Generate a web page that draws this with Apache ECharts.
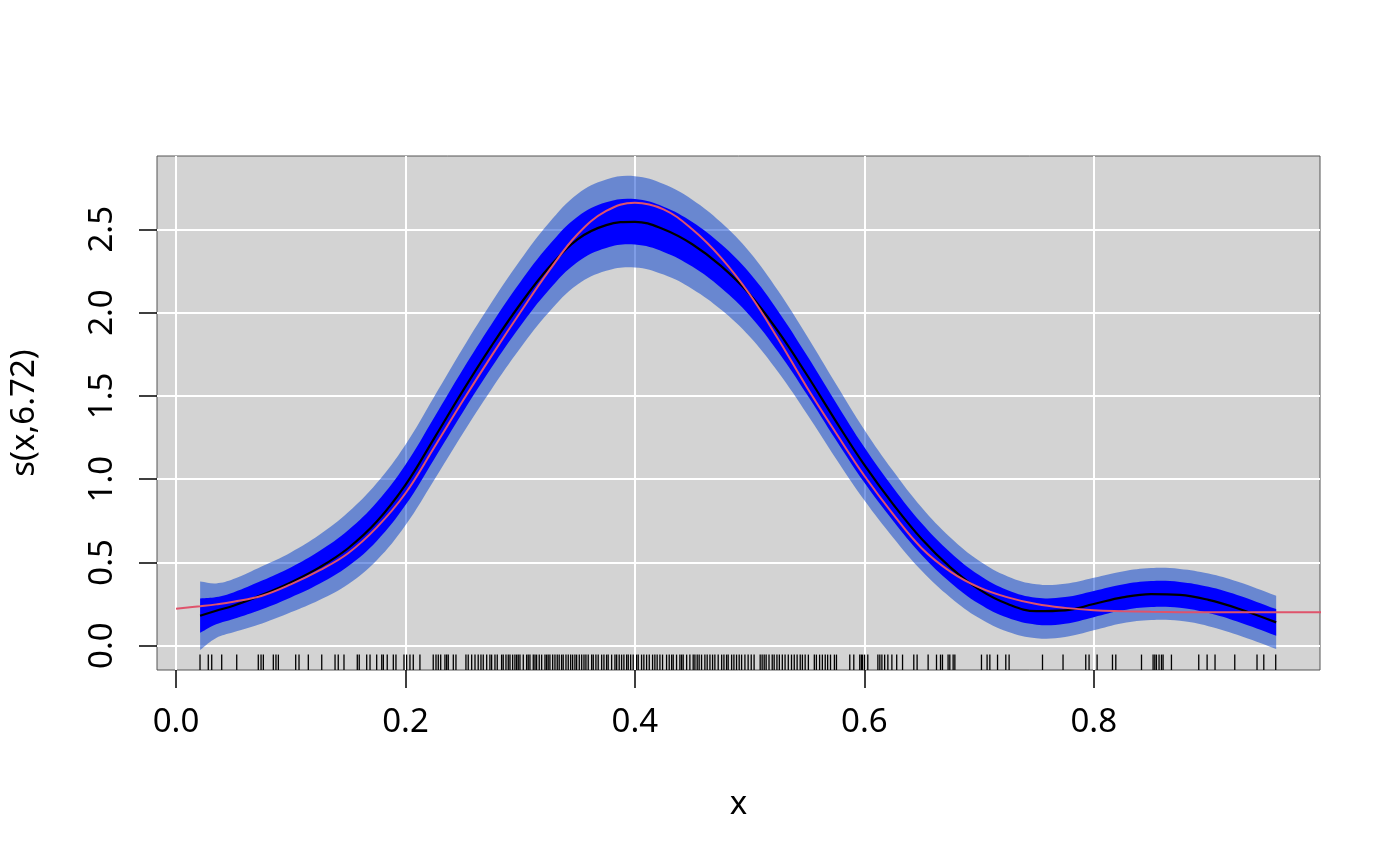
<!DOCTYPE html>
<html>
<head>
<meta charset="utf-8">
<script src="https://cdn.jsdelivr.net/npm/echarts@6/dist/echarts.min.js"></script>
<style>
html,body{margin:0;padding:0;background:#ffffff;}
#chart{width:1400px;height:866px;}
</style>
</head>
<body>
<div id="chart"></div>
<script>
// ---- data ----
const xGrid = [0.021,0.035,0.05,0.075,0.1,0.125,0.15,0.175,0.2,0.225,0.25,0.275,0.3,0.325,0.35,0.375,0.4,0.425,0.45,0.475,0.5,0.525,0.55,0.575,0.6,0.625,0.65,0.675,0.7,0.725,0.75,0.775,0.8,0.825,0.85,0.875,0.9,0.925,0.959];
const fitValues = [0.18,0.21,0.24,0.305,0.38,0.47,0.585,0.745,0.965,1.245,1.53,1.80,2.05,2.27,2.44,2.525,2.545,2.50,2.41,2.28,2.11,1.885,1.625,1.35,1.085,0.85,0.64,0.47,0.338,0.25,0.207,0.212,0.25,0.29,0.31,0.305,0.275,0.225,0.14];
const outerLower = [-0.026,0.046,0.08,0.133,0.20,0.274,0.369,0.513,0.723,0.995,1.274,1.54,1.786,2.002,2.168,2.251,2.271,2.228,2.142,2.018,1.856,1.641,1.391,1.126,0.873,0.65,0.45,0.29,0.166,0.084,0.045,0.052,0.092,0.134,0.154,0.149,0.117,0.065,-0.02];
const innerLower = [0.077,0.128,0.16,0.219,0.29,0.372,0.477,0.629,0.844,1.12,1.402,1.67,1.918,2.136,2.304,2.388,2.408,2.364,2.276,2.149,1.983,1.763,1.508,1.238,0.979,0.75,0.545,0.38,0.252,0.167,0.126,0.132,0.171,0.212,0.232,0.227,0.196,0.145,0.06];
const innerUpper = [0.283,0.292,0.32,0.391,0.47,0.568,0.693,0.861,1.086,1.37,1.658,1.93,2.182,2.404,2.576,2.662,2.682,2.636,2.544,2.411,2.237,2.007,1.742,1.462,1.191,0.95,0.735,0.56,0.424,0.333,0.288,0.292,0.329,0.368,0.388,0.383,0.354,0.305,0.22];
const outerUpper = [0.386,0.374,0.40,0.477,0.56,0.666,0.801,0.977,1.207,1.495,1.786,2.06,2.314,2.538,2.712,2.799,2.819,2.772,2.678,2.542,2.364,2.129,1.859,1.574,1.297,1.05,0.83,0.65,0.51,0.416,0.369,0.372,0.408,0.446,0.466,0.461,0.433,0.385,0.30];
const trueX = [0,0.021,0.035,0.05,0.075,0.1,0.125,0.15,0.175,0.2,0.225,0.25,0.275,0.3,0.325,0.35,0.375,0.4,0.425,0.45,0.475,0.5,0.525,0.55,0.575,0.6,0.625,0.65,0.675,0.7,0.725,0.75,0.775,0.8,0.825,0.85,0.875,0.9,0.925,0.959,1.0];
const trueValues = [0.222,0.237,0.248,0.264,0.30,0.368,0.452,0.555,0.71,0.915,1.19,1.47,1.74,2.0,2.25,2.47,2.61,2.66,2.62,2.50,2.33,2.11,1.84,1.55,1.28,1.02,0.79,0.585,0.445,0.35,0.29,0.25,0.227,0.213,0.207,0.203,0.201,0.2,0.2,0.2,0.2];
const rugX = [0.0209,0.0281,0.0311,0.0398,0.0529,0.0717,0.0741,0.0761,0.0848,0.0871,0.0892,0.1043,0.1072,0.1153,0.1270,0.1386,0.1414,0.1464,0.1580,0.1597,0.1662,0.1691,0.1749,0.1793,0.1807,0.1841,0.1894,0.1917,0.1987,0.2010,0.2039,0.2068,0.2126,0.2242,0.2266,0.2286,0.2307,0.2344,0.2359,0.2373,0.2417,0.2440,0.2527,0.2547,0.2577,0.2606,0.2634,0.2658,0.2678,0.2708,0.2736,0.2751,0.2780,0.2800,0.2838,0.2852,0.2876,0.2896,0.2911,0.2934,0.2954,0.2969,0.2983,0.2998,0.3027,0.3056,0.3070,0.3085,0.3114,0.3129,0.3143,0.3166,0.3187,0.3216,0.3230,0.3244,0.3259,0.3283,0.3303,0.3323,0.3340,0.3361,0.3375,0.3399,0.3419,0.3440,0.3457,0.3477,0.3492,0.3515,0.3536,0.3556,0.3573,0.3593,0.3623,0.3637,0.3660,0.3680,0.3710,0.3730,0.3753,0.3767,0.3797,0.3826,0.3841,0.3863,0.3884,0.3904,0.3928,0.3942,0.3963,0.3985,0.4015,0.4029,0.4058,0.4078,0.4102,0.4125,0.4154,0.4174,0.4194,0.4218,0.4241,0.4276,0.4299,0.4320,0.4334,0.4363,0.4392,0.4407,0.4421,0.4451,0.4479,0.4508,0.4523,0.4543,0.4560,0.4581,0.4610,0.4630,0.4654,0.4677,0.4697,0.4726,0.4756,0.4776,0.4799,0.4813,0.4843,0.4863,0.4886,0.4909,0.4930,0.4959,0.4987,0.5014,0.5039,0.5092,0.5109,0.5127,0.5144,0.5169,0.5197,0.5214,0.5238,0.5259,0.5285,0.5309,0.5337,0.5365,0.5389,0.5414,0.5441,0.5460,0.5484,0.5512,0.5564,0.5582,0.5610,0.5634,0.5659,0.5680,0.5705,0.5739,0.5757,0.5873,0.5908,0.5960,0.5974,0.5984,0.6002,0.6030,0.6118,0.6135,0.6153,0.6177,0.6205,0.6240,0.6282,0.6333,0.6431,0.6460,0.6556,0.6629,0.6664,0.6681,0.6730,0.6745,0.6774,0.6789,0.7021,0.7070,0.7094,0.7161,0.7233,0.7262,0.7553,0.7732,0.7930,0.7959,0.8029,0.8163,0.8192,0.8416,0.8517,0.8532,0.8546,0.8569,0.8590,0.8604,0.8677,0.8915,0.8988,0.9057,0.9229,0.9423,0.9482,0.9586];
const xTickValues = [0, 0.2, 0.4, 0.6, 0.8];
const yTickValues = [0, 0.5, 1.0, 1.5, 2.0, 2.5];
const xRange = [-0.0166, 0.9972];
const yRange = [-0.146, 2.94];
const xTitle = 'x';
const yTitle = 's(x,6.72)';

// ---- chart ----
const FONT = '"Noto Sans", "Open Sans", "DejaVu Sans", sans-serif';
const chart = echarts.init(document.getElementById('chart'), null, {renderer: 'canvas'});

const pairs = (xs, ys) => xs.map((x, i) => [x, ys[i]]);

// a confidence band drawn as one smoothed polygon through the axis scales
function bandSeries(name, lo, hi, color, z) {
  return {
    type: 'custom', name: name, coordinateSystem: 'cartesian2d', silent: true, z: z, clip: true,
    data: [[xGrid[0], lo[0]]],
    encode: {x: 0, y: 1},
    renderItem: function (params, api) {
      const upper = xGrid.map((x, i) => api.coord([x, hi[i]]));
      const lowerRev = xGrid.map((x, i) => api.coord([x, lo[i]])).reverse();
      const n = upper.length;
      // corner points doubled so the vertical end cuts stay sharp
      const pts = [upper[0]].concat(upper, [upper[n - 1]], [lowerRev[0]], lowerRev, [lowerRev[n - 1]]);
      return {type: 'polygon', shape: {points: pts, smooth: 0.4}, style: {fill: color}};
    }
  };
}

const option = {
  animation: false,
  backgroundColor: '#ffffff',
  grid: {
    left: 157, right: 80, top: 156, bottom: 196,
    show: true, backgroundColor: '#D3D3D3', borderColor: '#555555', borderWidth: 1
  },
  xAxis: {
    type: 'value', min: xRange[0], max: xRange[1],
    name: xTitle, nameLocation: 'middle', nameGap: 118,
    nameTextStyle: {fontFamily: FONT, fontSize: 33, color: '#000'},
    axisLine: {show: false, onZero: false},
    axisTick: {show: true, customValues: xTickValues, length: 18, lineStyle: {color: '#000', width: 1.5}},
    axisLabel: {customValues: xTickValues, formatter: v => v.toFixed(1), fontFamily: FONT, fontSize: 33, color: '#000', margin: 36},
    splitLine: {show: true, lineStyle: {color: '#ffffff', width: 2}}
  },
  yAxis: {
    type: 'value', min: yRange[0], max: yRange[1],
    name: yTitle, nameLocation: 'middle', nameGap: 116, nameRotate: 90,
    nameTextStyle: {fontFamily: FONT, fontSize: 33, color: '#000'},
    axisLine: {show: false, onZero: false},
    axisTick: {show: true, customValues: yTickValues, length: 18, lineStyle: {color: '#000', width: 1.5}},
    axisLabel: {customValues: yTickValues, rotate: 90, formatter: v => v.toFixed(1), fontFamily: FONT, fontSize: 33, color: '#000', margin: 38},
    splitLine: {show: true, lineStyle: {color: '#ffffff', width: 2}}
  },
  series: [
    bandSeries('outer band', outerLower, outerUpper, 'rgba(0,60,205,0.5)', 2),
    bandSeries('inner band', innerLower, innerUpper, '#0000FF', 3),
    {type: 'line', name: 'fit', data: pairs(xGrid, fitValues), smooth: 0.4, symbol: 'none',
     lineStyle: {color: '#000000', width: 2.2}, silent: true, z: 4},
    {type: 'line', name: 'truth', data: pairs(trueX, trueValues), smooth: 0.4, symbol: 'none',
     lineStyle: {color: '#DF536B', width: 2}, silent: true, z: 5},
    {type: 'custom', name: 'rug', coordinateSystem: 'cartesian2d', silent: true, z: 6,
     data: rugX.map(v => [v, yRange[0]]),
     encode: {x: 0, y: 1},
     renderItem: function (params, api) {
       const xv = api.value(0);
       const p0 = api.coord([xv, yRange[0]]);
       const p1 = api.coord([xv, yRange[0] + 0.03 * (yRange[1] - yRange[0])]);
       return {type: 'line', shape: {x1: p0[0], y1: p0[1], x2: p1[0], y2: p1[1]},
               style: {stroke: '#000000', lineWidth: 1.3}};
     }}
  ]
};
chart.setOption(option);
</script>
</body>
</html>
